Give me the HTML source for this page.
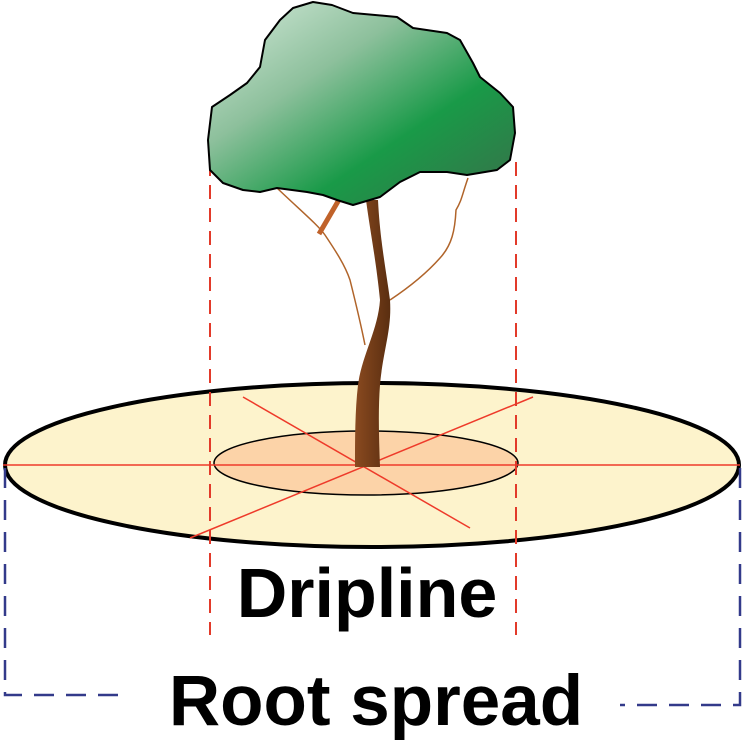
<!DOCTYPE html>
<html><head><meta charset="utf-8"><style>body{margin:0;background:#fff}svg{display:block}</style></head><body>
<svg width="742" height="742" viewBox="0 0 742 742" xmlns="http://www.w3.org/2000/svg">
<defs>
<linearGradient id="g" x1="0" y1="0" x2="1" y2="1">
<stop offset="0" stop-color="#d6ebdc"/><stop offset="0.35" stop-color="#8dc09c"/><stop offset="0.65" stop-color="#199a48"/><stop offset="1" stop-color="#3a6e4a"/>
</linearGradient>
<linearGradient id="t" x1="0" y1="0" x2="1" y2="0">
<stop offset="0" stop-color="#8a4a20"/><stop offset="1" stop-color="#5a2e10"/>
</linearGradient>
</defs>
<ellipse cx="372" cy="465" rx="367" ry="82" fill="#fdf3cc" stroke="#000" stroke-width="4"/>
<ellipse cx="366" cy="463" rx="152" ry="32" fill="#fcd3a8" stroke="#000" stroke-width="1.5"/>
<g stroke="#ee3a2a" stroke-width="1.5">
<line x1="3" y1="465" x2="740" y2="465"/>
<line x1="190" y1="538" x2="533" y2="397"/>
<line x1="243" y1="397" x2="470" y2="528"/>
</g>
<g stroke="#e23a2a" stroke-width="2" stroke-dasharray="14,9">
<line x1="210" y1="162" x2="210" y2="635"/>
<line x1="516" y1="162" x2="516" y2="635"/>
</g>
<g stroke="#333a8a" stroke-width="2.5" stroke-dasharray="20,12" fill="none">
<polyline points="5,468 5,695 130,695"/>
<polyline points="740,468 740,705 620,705"/>
</g>
<path d="M277,188 C300,210 318,225 325,235 C335,250 345,265 350,280 C355,300 360,320 365,345" stroke="#b0642a" stroke-width="1.5" fill="none"/>
<path d="M468,178 C462,195 462,200 456,210 C455,230 452,245 440,258 C425,275 405,290 390,300" stroke="#b0642a" stroke-width="1.5" fill="none"/>
<line x1="319" y1="234" x2="340" y2="198" stroke="#c0622a" stroke-width="5"/>
<path d="M366,200 C370,230 376,260 380,300 C378,330 362,355 358,385 C355,410 355,440 355,467 L380,467 C379,440 378,410 380,385 C383,350 392,330 390,300 C386,270 380,240 378,200 Z" fill="url(#t)"/>
<path d="M313,2 L332,5 L353,13 L397,17 L413,28 L447,33 L460,40 L473,63 L480,77 L500,93 L513,107 L515,133 L510,160 L497,170 L467,175 L447,172 L420,172 L400,182 L380,197 L353,205 L337,200 L323,195 L307,192 L277,188 L260,192 L243,190 L223,183 L210,170 L208,140 L212,107 L230,95 L247,83 L260,67 L265,40 L280,20 L293,8 Z" fill="url(#g)" stroke="#000" stroke-width="2" stroke-linejoin="round"/>
<text x="367" y="617" text-anchor="middle" font-family="Liberation Sans, sans-serif" font-weight="bold" font-size="70">Dripline</text>
<text x="376" y="725" text-anchor="middle" font-family="Liberation Sans, sans-serif" font-weight="bold" font-size="71">Root spread</text>
</svg>
</body></html>
